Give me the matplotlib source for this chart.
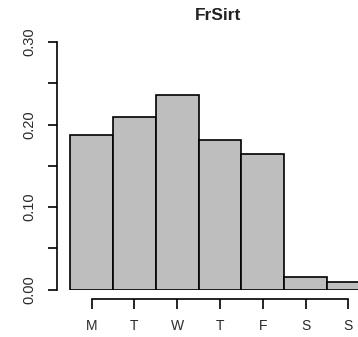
import matplotlib
matplotlib.use("Agg")
import matplotlib.pyplot as plt

days = ["M", "T", "W", "T", "F", "S", "S"]
freq = [0.187, 0.209, 0.236, 0.181, 0.164, 0.0155, 0.009]
yticks = [0.00, 0.10, 0.20, 0.30]
yminor = [0.05, 0.15, 0.25]

plt.rcParams['font.family'] = ['Liberation Sans', 'DejaVu Sans']

W, H = 358, 337
fig = plt.figure(figsize=(W / 100, H / 100), dpi=100)
# plot box in pixels: left spine at x=57, y=0 at 289.5, y=0.30 at 42
ax = fig.add_axes([57 / W, (H - 289.5) / H, 1 - 57 / W, (289.5 - 42) / H])

pos = list(range(len(days)))
ax.bar(pos, freq, width=1.0, color="#bebebe", edgecolor="black", linewidth=1.2)

ppu = 42.8
ax.set_xlim((57 - 91.5) / ppu, (358 - 91.5) / ppu)
ax.set_ylim(0, 0.30)

for s in ["top", "right"]:
    ax.spines[s].set_visible(False)
ax.spines["left"].set_bounds(0, 0.30)
ax.spines["bottom"].set_position(("outward", 7))
ax.spines["bottom"].set_bounds(0, len(days) - 1)
for s in ["left", "bottom"]:
    ax.spines[s].set_linewidth(1.2)

ax.set_xticks(pos)
ax.set_xticklabels(days, fontsize=10, color="#2a2a2a")
ax.set_yticks(yticks)
ax.set_yticklabels(["%.2f" % v for v in yticks], fontsize=10.5, color="#2a2a2a",
                   rotation=90, va="center")
ax.set_yticks(yminor, minor=True)
ax.tick_params(axis="y", which="both", length=6.5, width=1.2, pad=8)
ax.tick_params(axis="x", length=7, width=1.2, pad=7)

fig.text(218 / W, 1 - 15 / H, "FrSirt", ha="center", va="center",
         fontsize=12.5, fontweight="bold", color="#222222")

fig.savefig("out.png", dpi=100)
